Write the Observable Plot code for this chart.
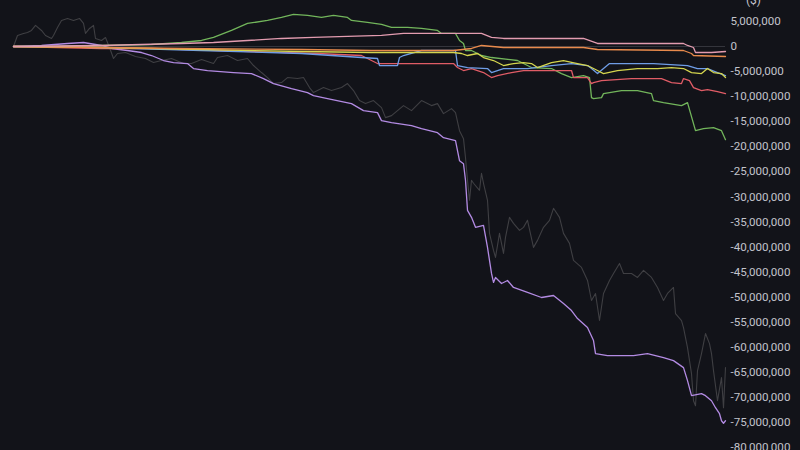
<!DOCTYPE html>
<html>
<head>
<meta charset="utf-8">
<script src="https://cdn.jsdelivr.net/npm/d3@7"></script>
<script src="https://cdn.jsdelivr.net/npm/@observablehq/plot@0.6"></script>
<style>
  html, body { margin: 0; padding: 0; background: #121319; overflow: hidden; }
  #chart svg { display: block; overflow: visible; }
</style>
</head>
<body>
<div id="chart"></div>
<script>
// x = day index, y = value in millions
const unitLabel = "($)";
const yTicks = [5,0,-5,-10,-15,-20,-25,-30,-35,-40,-45,-50,-55,-60,-65,-70,-75,-80];

const gray = [[0,0],[2,2.2],[5,2.6],[7,2.8],[9,3.2],[11,4.2],[14,3.2],[16,2.2],[19,1.6],[20,2.2],[22,3.8],[24,5.2],[27,5.6],[30,5.2],[33,5.6],[35,4.6],[36,2.6],[38,3.6],[40,4.2],[41,1.6],[44,1.2],[46,1.8],[48,-0.2],[50,-2.4],[52,-1.4],[56,-1.2],[61,-2.0],[66,-2.4],[70,-3.2],[74,-2.8],[79,-2.4],[85,-3.4],[89,-3.4],[94,-2.6],[100,-3.4],[102,-2.2],[107,-1.8],[112,-2.8],[117,-2.4],[120,-3.8],[124,-5.2],[127,-6.2],[130,-7.4],[134,-7.2],[137,-6.2],[142,-6.4],[145,-6.2],[148,-8.2],[150,-9.2],[155,-8.2],[159,-8.8],[164,-8.2],[167,-7.4],[170,-8.8],[173,-10.8],[176,-11.4],[180,-10.8],[184,-12.2],[186,-14.2],[189,-13.8],[192,-12.8],[195,-11.8],[199,-12.8],[204,-10.8],[209,-11.8],[212,-11.4],[215,-13.4],[219,-12.4],[221,-13.2],[223,-16.8],[225,-18.4],[226,-22.2],[227,-26.7],[228,-30.7],[229,-26.7],[230,-27.3],[233,-28.7],[234,-25.3],[235,-27.3],[237,-30.7],[238,-37.3],[240,-40.7],[241,-42.1],[243,-37.3],[245,-41.3],[246,-38.1],[248,-34.1],[250,-35.3],[253,-36.7],[255,-36.1],[257,-34.7],[260,-40.1],[262,-38.7],[265,-36.1],[268,-34.7],[270,-32.3],[273,-34.1],[275,-37.3],[278,-39.3],[280,-42.7],[284,-44.1],[287,-46.7],[289,-50.7],[291,-49.3],[293,-54.7],[295,-49.3],[298,-46.7],[300,-45.3],[303,-43.3],[305,-45.3],[309,-45.3],[312,-46.1],[315,-44.7],[319,-46.1],[322,-48.1],[325,-50.7],[327,-49.3],[330,-48.1],[331,-53.3],[334,-54.7],[335,-56.1],[337,-60.1],[339,-65.3],[340,-70.7],[341,-71.7],[342,-64.7],[344,-61.3],[346,-57.3],[348,-59.3],[349,-61.3],[350,-64.7],[352,-70.7],[354,-66.1],[355,-72.1],[356,-64.1]];

const purple = [[0,0],[14,0.2],[27,0.6],[35,0.8],[44,0.2],[49,-0.4],[57,-0.8],[64,-1.2],[69,-1.8],[75,-2.8],[80,-3.2],[87,-3.4],[90,-4.4],[97,-4.8],[110,-5.2],[119,-5.4],[125,-6.4],[130,-7.4],[139,-8.4],[147,-9.2],[150,-9.8],[157,-10.4],[169,-11.4],[175,-12.8],[182,-13.2],[184,-14.8],[189,-15.2],[199,-15.8],[204,-16.4],[212,-17.2],[215,-18.2],[221,-18.8],[223,-22.8],[225,-23.4],[226,-26.7],[227,-32.7],[229,-34.1],[231,-36.1],[235,-35.7],[237,-40.1],[239,-45.3],[240,-47.1],[241,-46.1],[244,-47.3],[247,-46.7],[250,-48.1],[257,-49.1],[264,-50.1],[270,-49.7],[275,-51.3],[279,-52.7],[282,-54.3],[287,-56.1],[290,-58.7],[291,-61.3],[297,-61.7],[310,-61.7],[317,-61.3],[325,-62.1],[330,-62.7],[335,-64.1],[337,-66.7],[339,-69.7],[344,-69.3],[346,-69.7],[349,-70.7],[351,-72.1],[353,-73.3],[354,-74.7],[355,-75.2],[356,-74.7]];

const green = [[0,0],[19,0],[44,0.2],[69,0.4],[84,0.8],[94,1.2],[100,1.8],[109,3.2],[117,4.6],[127,5.2],[134,5.8],[140,6.4],[147,6.2],[154,5.8],[160,6.2],[167,5.8],[169,5.2],[177,4.8],[184,4.4],[189,3.8],[197,3.8],[204,3.6],[212,3.2],[214,2.6],[221,2.6],[223,1.2],[225,0.6],[226,-0.8],[229,-0.8],[234,-1.8],[239,-2.2],[252,-2.8],[259,-4.2],[269,-4.4],[274,-5.4],[279,-6.2],[285,-5.8],[288,-6.2],[289,-10.2],[290,-10.4],[294,-10.2],[295,-9.4],[304,-8.8],[312,-8.8],[319,-9.4],[320,-10.8],[325,-11.2],[334,-11.8],[337,-11.2],[340,-15.4],[341,-16.8],[345,-16.4],[350,-16.2],[354,-16.8],[356,-18.6]];

const pink = [[0,0],[44,0.2],[84,0.6],[100,0.8],[117,1.2],[134,1.6],[150,1.8],[167,2.0],[184,2.2],[195,2.6],[220,2.6],[234,2.6],[239,1.8],[245,1.6],[285,1.6],[292,0.6],[335,0.6],[337,0.2],[340,-0.2],[341,-1.2],[349,-1.2],[356,-1.0]];

const orange = [[0,0],[44,-0.2],[84,-0.4],[144,-0.6],[179,-0.8],[220,-0.8],[229,-0.4],[234,0.2],[245,-0.2],[285,-0.2],[292,-0.6],[335,-0.8],[339,-1.4],[340,-1.8],[356,-2.0]];

const yellow = [[0,0],[44,-0.2],[94,-0.6],[144,-1.0],[179,-1.2],[220,-1.2],[224,-1.4],[227,-1.8],[232,-1.4],[235,-2.2],[240,-2.8],[245,-3.8],[250,-3.4],[255,-3.2],[259,-3.4],[262,-4.2],[269,-3.2],[275,-2.8],[282,-3.4],[287,-3.8],[292,-4.8],[295,-5.4],[302,-4.8],[312,-4.4],[322,-4.4],[329,-4.2],[335,-4.4],[339,-5.2],[344,-5.4],[347,-4.4],[350,-5.2],[354,-5.4],[356,-6.2]];

const blue = [[0,0],[44,-0.2],[94,-0.8],[144,-1.4],[174,-2.2],[182,-2.4],[183,-3.8],[192,-3.8],[193,-2.2],[195,-1.8],[204,-0.8],[221,-0.8],[222,-3.8],[227,-4.2],[237,-4.4],[239,-5.2],[245,-4.4],[257,-4.4],[269,-3.8],[279,-3.4],[287,-3.8],[289,-4.4],[292,-5.4],[295,-4.4],[298,-3.4],[320,-3.4],[337,-3.8],[342,-4.4],[347,-4.4],[352,-5.2],[356,-5.8]];

const red = [[0,0],[44,-0.4],[69,-0.4],[119,-1.0],[152,-1.4],[174,-1.8],[182,-3.4],[199,-3.4],[220,-3.4],[222,-4.2],[225,-4.8],[229,-4.4],[235,-5.2],[239,-6.2],[242,-5.8],[249,-5.2],[255,-4.8],[279,-4.8],[280,-6.2],[287,-6.2],[289,-7.4],[290,-7.2],[294,-6.8],[309,-6.4],[324,-6.4],[329,-7.2],[334,-7.4],[335,-6.4],[338,-6.8],[340,-8.2],[344,-8.8],[347,-8.6],[352,-9.0],[356,-9.4]];

const seriesList = [
  {name: "gray", data: gray, color: "#3f3f43", w: 1.1},
  {name: "purple", data: purple, color: "#b38be3", w: 1.3},
  {name: "green", data: green, color: "#72b55b", w: 1.3},
  {name: "red", data: red, color: "#e05c66", w: 1.3},
  {name: "blue", data: blue, color: "#6f9de6", w: 1.3},
  {name: "yellow", data: yellow, color: "#d4d54e", w: 1.3},
  {name: "orange", data: orange, color: "#e88a4c", w: 1.3},
  {name: "pink", data: pink, color: "#e39cb0", w: 1.3}
];

const rows = [];
for (const s of seriesList) for (const [d, v] of s.data) rows.push({series: s.name, day: d, value: v * 1e6});

const fmt = d => (d < 0 ? "-" : "") + Math.abs(d).toLocaleString("en-US");

const marks = [
  Plot.ruleY([0], {stroke: "#34353c", strokeWidth: 1.2})
];
for (const s of seriesList) {
  marks.push(Plot.line(rows.filter(r => r.series === s.name), {x: "day", y: "value", stroke: s.color, strokeWidth: s.w}));
}
marks.push(Plot.axisY({
  anchor: "right",
  ticks: yTicks.map(t => t * 1e6),
  tickSize: 0,
  tickPadding: 5,
  tickFormat: fmt,
  label: null,
  fill: "#c3c4cc",
  fontSize: 11.6,
  fontVariant: "normal"
}));
marks.push(Plot.text([unitLabel], {
  frameAnchor: "top-right", dx: 28, dy: 3, text: d => d,
  lineAnchor: "bottom", textAnchor: "middle", fill: "#c3c4cc", fontSize: 12
}));

const chart = Plot.plot({
  width: 800,
  height: 450,
  marginLeft: 13,
  marginRight: 75,
  marginTop: 0,
  marginBottom: 0,
  x: {domain: [0, 356], axis: null},
  y: {domain: [-80.64e6, 9.18e6], axis: null},
  style: {background: "#121319", fontFamily: "Roboto, 'Noto Sans', sans-serif", overflow: "visible"},
  marks
});
document.getElementById("chart").appendChild(chart);
</script>
</body>
</html>
